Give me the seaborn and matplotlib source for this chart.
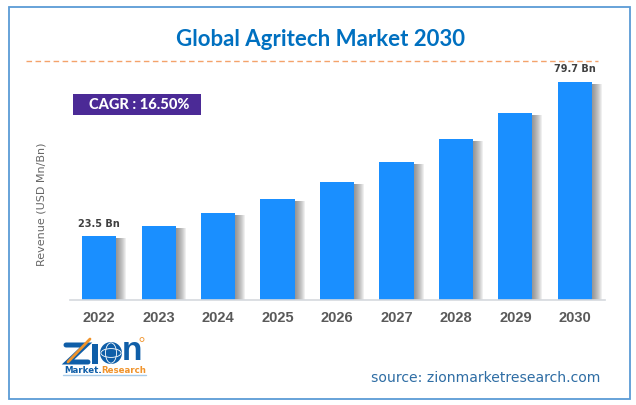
import matplotlib
matplotlib.use("Agg")
import matplotlib.pyplot as plt
import matplotlib.patheffects as pe
from matplotlib.lines import Line2D
from matplotlib.patches import Rectangle, Ellipse, Circle
import pandas as pd
import seaborn as sns

years = ["2022", "2023", "2024", "2025", "2026", "2027", "2028", "2029", "2030"]
revenue = [23.5, 27.1, 31.8, 36.9, 43.1, 50.5, 58.9, 68.4, 79.7]
first_label = "23.5 Bn"
last_label = "79.7 Bn"

W, H = 636, 405
LOGO_BLUE = "#0f5ea8"
LOGO_ORANGE = "#f0932b"


def fx(px):
    return px / W


def fy(py):
    return 1 - py / H


sns.set_theme(style="white")
plt.rcParams["font.family"] = ["Lato", "DejaVu Sans"]

fig = plt.figure(figsize=(W / 100, H / 100), dpi=100, facecolor="white")
ax = fig.add_axes([fx(69.5), fy(300), fx(535), 218.5 / H])

df = pd.DataFrame({"year": years, "revenue": revenue})
sns.barplot(data=df, x="year", y="revenue", color="#1a8fff", saturation=1, width=0.575, linewidth=0, ax=ax)
ax.set_xlim(-0.5, 8.5)
ax.set_ylim(0, 79.9)

# soft shadow on the right of each bar, built up so it is darkest next to the bar
shadow = [pe.SimplePatchShadow(offset=(k * 0.72, -1.5), shadow_rgbFace="#666666", alpha=0.1)
          for k in (10, 9, 8, 7, 6, 5, 4, 3, 2, 1)]
for bar in ax.patches:
    bar.set_path_effects(shadow + [pe.Normal()])

sns.despine(ax=ax, left=True)
ax.spines["bottom"].set_color("#d5d9de")
ax.spines["bottom"].set_linewidth(1.2)
ax.spines["bottom"].set_zorder(5)
ax.set_yticks([])
ax.set_xlabel("")
ax.set_ylabel("")
ax.tick_params(axis="x", length=0, pad=8)
for t in ax.get_xticklabels():
    t.set_fontfamily(["Liberation Sans"])
    t.set_fontweight("bold")
    t.set_fontsize(10.5)
    t.set_color("#595959")

ax.annotate(first_label, (0, revenue[0]), xytext=(0, 4.5), textcoords="offset points", ha="center", va="bottom",
            fontsize=7, fontweight="bold", color="#404040", family=["DejaVu Sans"])
ax.annotate(last_label, (8, revenue[-1]), xytext=(0, 5.5), textcoords="offset points", ha="center", va="bottom",
            fontsize=7, fontweight="bold", color="#404040", family=["DejaVu Sans"])

fig.text(fx(320.5), fy(39.5), "Global Agritech Market 2030", ha="center", va="center", fontsize=16,
         fontweight="bold", color="#0070c0")
fig.text(fx(42), fy(204), "Revenue (USD Mn/Bn)", rotation=90, ha="center", va="center", fontsize=8,
         color="#666666", family=["DejaVu Sans"])
fig.text(fx(485.5), fy(378), "source: zionmarketresearch.com", ha="center", va="center", fontsize=10.1,
         color="#2e6da4", family=["DejaVu Sans"])

# frame, dashed rule, CAGR box
fig.add_artist(Rectangle((fx(8.5), fy(399)), fx(621.5), 392.5 / H, transform=fig.transFigure, fill=False,
                         edgecolor="#5b9bd5", linewidth=1.3))
fig.add_artist(Line2D([fx(26), fx(598)], [fy(60.5), fy(60.5)], transform=fig.transFigure, color="#f4a36b",
                      linewidth=1, linestyle=(0, (4, 2.5))))
fig.add_artist(Rectangle((fx(73), fy(115)), fx(128), 21 / H, transform=fig.transFigure, facecolor="#4b2a96",
                         edgecolor="none"))
fig.text(fx(139), fy(105), "CAGR : 16.50%", ha="center", va="center", fontsize=10.5, fontweight="black",
         color="white")

# logo
fig.add_artist(Line2D([fx(66), fx(86), fx(68), fx(88)], [fy(345), fy(345), fy(362), fy(362)],
                      transform=fig.transFigure, color=LOGO_BLUE, linewidth=3.6, solid_joinstyle="miter"))
fig.add_artist(Rectangle((fx(92), fy(364)), fx(6), 20 / H, transform=fig.transFigure, facecolor=LOGO_BLUE,
                         edgecolor="none"))
globe_w, globe_h = fx(22), 22 / H
fig.add_artist(Ellipse((fx(111), fy(353)), globe_w, globe_h, transform=fig.transFigure, facecolor=LOGO_BLUE,
                       edgecolor="none"))
fig.add_artist(Ellipse((fx(111), fy(353)), globe_w * 0.5, globe_h * 0.92, transform=fig.transFigure, fill=False,
                       edgecolor="white", linewidth=0.6))
fig.add_artist(Ellipse((fx(111), fy(353)), globe_w * 0.92, globe_h * 0.4, transform=fig.transFigure, fill=False,
                       edgecolor="white", linewidth=0.6))
fig.text(fx(122), fy(351), "n", ha="left", va="center", fontsize=24, fontweight="bold", color=LOGO_BLUE,
         family=["Liberation Sans"])
fig.add_artist(Line2D([fx(68), fx(90)], [fy(362), fy(339)], transform=fig.transFigure, color=LOGO_ORANGE,
                      linewidth=2, zorder=5))
fig.add_artist(Circle((fx(142) * W / 100, fy(339.5) * H / 100), 2 / 100, transform=fig.dpi_scale_trans, fill=False,
                      edgecolor=LOGO_ORANGE, linewidth=0.6))
fig.text(fx(64), fy(370.5), "Market.", ha="left", va="center", fontsize=6.2, fontweight="bold", color=LOGO_BLUE,
         family=["DejaVu Sans"])
fig.text(fx(101), fy(370.5), "Research", ha="left", va="center", fontsize=6.2, fontweight="bold", color=LOGO_ORANGE,
         family=["DejaVu Sans"])
fig.add_artist(Line2D([fx(63), fx(146)], [fy(375), fy(375)], transform=fig.transFigure, color="#a8cbe8",
                      linewidth=1))

fig.savefig("out.png", dpi=100)
